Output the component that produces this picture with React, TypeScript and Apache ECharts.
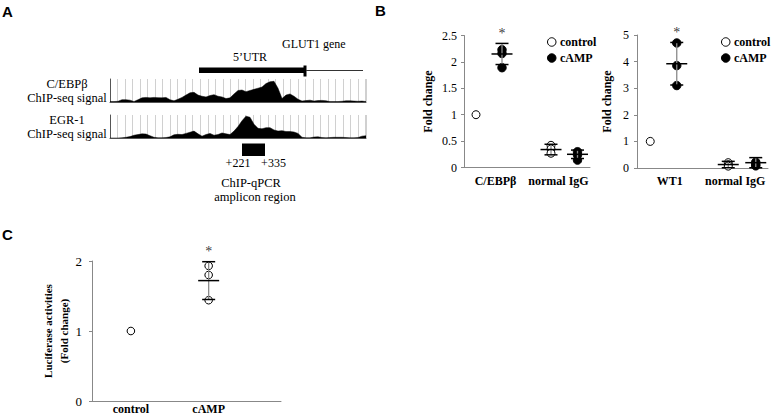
import React, { useEffect, useRef } from "react";
import * as echarts from "echarts";

// ---------- Panel A: ChIP-seq signal tracks (relative height of the track) ----------
const cebpbSignal = [
  0.02, 0.02, 0.03, 0.1, 0.1, 0.08, 0.02, 0.1, 0.18, 0.2,
  0.18, 0.2, 0.19, 0.18, 0.2, 0.1, 0.05, 0.12, 0.2, 0.3,
  0.4, 0.42, 0.3, 0.25, 0.22, 0.28, 0.32, 0.25, 0.22, 0.15,
  0.18, 0.35, 0.5, 0.52, 0.45, 0.5, 0.55, 0.6, 0.65, 0.8,
  0.88, 0.9, 0.6, 0.15, 0.3, 0.35, 0.25, 0.12, 0.04, 0.06,
  0.08, 0.04, 0.06, 0.07, 0.05, 0.02, 0.02, 0.02, 0.03, 0.05,
  0.05, 0.04, 0.03, 0.04, 0.02,
];
const egr1Signal = [
  0, 0, 0, 0.01, 0.03, 0.06, 0.12, 0.15, 0.18, 0.17,
  0.1, 0.03, 0.01, 0.01, 0.02, 0.05, 0.14, 0.16, 0.15, 0.2,
  0.25, 0.3, 0.18, 0.08, 0.15, 0.2, 0.12, 0.15, 0.22, 0.18,
  0.15, 0.3, 0.5, 0.75, 0.95, 0.9, 0.6, 0.42, 0.4, 0.45,
  0.45, 0.35, 0.3, 0.32, 0.28, 0.28, 0.26, 0.2, 0.03, 0.01,
  0.01, 0.04, 0.05, 0.02, 0.01, 0.02, 0.03, 0.03, 0.03, 0.02,
  0.01, 0.01, 0.02, 0.08, 0.1,
];

// ---------- Panel B (left): C/EBPβ ChIP-qPCR ----------
const categoriesB1 = ["C/EBPβ", "normal IgG"];
const ticksB1 = { min: 0, max: 2.5, interval: 0.5 };
const controlB1Points = [[1.0], [0.42, 0.35, 0.27]];
const controlB1Mean = [1.0, 0.34];
const controlB1Sd = [0, 0.1];
const campB1Points = [[2.23, 2.16, 1.89], [0.3, 0.24, 0.14]];
const campB1Mean = [2.15, 0.25];
const campB1Sd = [0.2, 0.08];
const campB1Sig = [true, false];

// ---------- Panel B (right): WT1 ChIP-qPCR ----------
const categoriesB2 = ["WT1", "normal IgG"];
const ticksB2 = { min: 0, max: 5, interval: 1 };
const controlB2Points = [[1.0], [0.2, 0.12, 0.07]];
const controlB2Mean = [1.0, 0.13];
const controlB2Sd = [0, 0.12];
const campB2Points = [[4.7, 3.85, 3.1], [0.22, 0.14, 0.08]];
const campB2Mean = [3.92, 0.2];
const campB2Sd = [0.8, 0.19];
const campB2Sig = [true, false];

// ---------- Panel C: luciferase ----------
const categoriesC = ["control", "cAMP"];
const ticksC = { min: 0, max: 2, interval: 1 };
const lucPoints = [[1.0], [1.93, 1.8, 1.44]];
const lucMean = [1.0, 1.72];
const lucSd = [0, 0.27];
const lucSig = [false, true];

const SERIF = "'Liberation Serif','Times New Roman',serif";
const SANS = "'Liberation Sans',Arial,sans-serif";
const AXIS_GRAY = "#888";
const CAP = 6.5;
const MEAN_HALF = 10.5;

function dotRenderer(points: number[][], sds: number[], offsets: number[], fill: string, r: number) {
  return (params: any, api: any) => {
    const i = params.dataIndex;
    const xv = api.value(0);
    const mean = api.value(1);
    const base = api.coord([xv, mean]);
    const cx = base[0] + offsets[i];
    const children: any[] = [];
    for (const v of points[i]) {
      const p = api.coord([xv, v]);
      children.push({
        type: "circle",
        shape: { cx, cy: p[1], r },
        style: { fill, stroke: "#000", lineWidth: 1 },
      });
    }
    const sd = sds[i];
    if (sd > 0) {
      const yTop = api.coord([xv, mean + sd])[1];
      const yBot = api.coord([xv, mean - sd])[1];
      children.push({
        type: "line",
        shape: { x1: cx, y1: yTop, x2: cx, y2: yBot },
        style: { stroke: "#8a8a8a", lineWidth: 1.3 },
      });
      children.push({
        type: "line",
        shape: { x1: cx - CAP, y1: yTop, x2: cx + CAP, y2: yTop },
        style: { stroke: "#000", lineWidth: 1.5 },
      });
      children.push({
        type: "line",
        shape: { x1: cx - CAP, y1: yBot, x2: cx + CAP, y2: yBot },
        style: { stroke: "#000", lineWidth: 1.5 },
      });
      children.push({
        type: "line",
        shape: { x1: cx - MEAN_HALF, y1: base[1], x2: cx + MEAN_HALF, y2: base[1] },
        style: { stroke: "#000", lineWidth: 1.5 },
      });
    }
    return { type: "group", children };
  };
}

// significance asterisks: a symbol-less scatter whose label is "*", placed at mean + sd
function starSeries(
  xAxisIndex: number,
  xs: number[],
  means: number[],
  sds: number[],
  sig: boolean[],
  offsets: number[]
) {
  const data: any[] = [];
  sig.forEach((s, i) => {
    if (s) data.push({ value: [xs[i], means[i] + sds[i]], label: { offset: [offsets[i], 0] } });
  });
  return {
    name: "significance",
    type: "scatter",
    xAxisIndex,
    yAxisIndex: xAxisIndex,
    symbolSize: 0,
    silent: true,
    data,
    label: {
      show: true,
      position: "top",
      distance: 3,
      formatter: "*",
      color: "#000",
      fontFamily: SERIF,
      fontSize: 14,
    },
  };
}

function trackAxes(gridIndex: number, label: string) {
  return {
    x: {
      gridIndex,
      type: "value",
      min: 0,
      max: 64,
      interval: 1.88,
      axisLabel: { show: false },
      axisTick: { show: false },
      axisLine: { show: true, lineStyle: { color: "#555", width: 1 } },
      splitLine: { show: true, lineStyle: { color: "#d0d0d0", width: 1 } },
    },
    y: {
      gridIndex,
      type: "value",
      min: 0,
      max: 1,
      axisLabel: { show: false },
      axisTick: { show: false },
      splitLine: { show: false },
      axisLine: { show: true, lineStyle: { color: "#555", width: 1 } },
      name: label,
      nameLocation: "middle",
      nameGap: 43,
      nameRotate: 0,
      nameTextStyle: {
        fontFamily: SERIF,
        fontSize: 12.5,
        color: "#000",
        align: "center",
        lineHeight: 14,
      },
    },
  };
}

function catXAxis(gridIndex: number, data: string[]) {
  return {
    gridIndex,
    type: "category",
    data,
    axisTick: { show: false },
    axisLine: { show: true, lineStyle: { color: AXIS_GRAY, width: 1 } },
    axisLabel: {
      interval: 0,
      hideOverlap: false,
      fontFamily: SERIF,
      fontWeight: "bold",
      fontSize: 12,
      color: "#000",
      margin: 7,
    },
    splitLine: { show: false },
  };
}

function valYAxis(
  gridIndex: number,
  ticks: { min: number; max: number; interval: number },
  name: string,
  nameGap: number,
  nameSize: number,
  labelSize: number,
  labelMargin: number
) {
  return {
    gridIndex,
    type: "value",
    ...ticks,
    axisLine: { show: true, lineStyle: { color: AXIS_GRAY, width: 1 } },
    axisTick: { show: true, length: 3, lineStyle: { color: AXIS_GRAY } },
    axisLabel: { fontFamily: SERIF, fontSize: labelSize, color: "#000", margin: labelMargin },
    splitLine: { show: false },
    name,
    nameLocation: "middle",
    nameGap,
    nameTextStyle: {
      fontFamily: SERIF,
      fontWeight: "bold",
      fontSize: nameSize,
      color: "#000",
      lineHeight: 16,
    },
  };
}

function legendAt(left: number) {
  return {
    left,
    top: 36,
    padding: 0,
    orient: "vertical",
    icon: "circle",
    itemWidth: 8.5,
    itemHeight: 8.5,
    itemGap: 4,
    selectedMode: false,
    data: [
      { name: "control", itemStyle: { color: "#fff", borderColor: "#000", borderWidth: 1 } },
      { name: "cAMP", itemStyle: { color: "#000", borderColor: "#000", borderWidth: 1 } },
    ],
    textStyle: { fontFamily: SERIF, fontWeight: "bold", fontSize: 12, color: "#000", padding: [0, 0, 0, -1] },
  };
}

const textEl = (
  x: number,
  y: number,
  text: string,
  align: string,
  font: string,
  size: number,
  weight = "normal"
) => ({
  type: "text",
  x,
  y,
  style: {
    text,
    fontFamily: font,
    fontSize: size,
    fontWeight: weight,
    fill: "#000",
    align,
    verticalAlign: "middle",
  },
});

export default function App() {
  const ref = useRef<HTMLDivElement>(null);

  useEffect(() => {
    if (!ref.current) return;
    const chart = echarts.init(ref.current, undefined, { renderer: "svg" });

    const t0 = trackAxes(0, "C/EBPβ\nChIP-seq signal");
    const t1 = trackAxes(1, "EGR-1\nChIP-seq signal");

    const xB = [0, 1];
    const xC = categoriesC.map((_, i) => 2 * i + 1);
    const ctlOff = [-19.5, -7.5];
    const campOff = [6.5, 19];

    const option: any = {
      animation: false,
      backgroundColor: "#fff",
      grid: [
        { left: 110, top: 79, width: 256, height: 23 },
        { left: 110, top: 115, width: 256, height: 23 },
        { left: 464, top: 35.5, width: 126, height: 132 },
        { left: 637, top: 35, width: 131, height: 133 },
        { left: 92, top: 261, width: 189, height: 140 },
      ],
      xAxis: [
        t0.x,
        t1.x,
        catXAxis(2, categoriesB1),
        catXAxis(3, categoriesB2),
        {
          gridIndex: 4,
          type: "value",
          min: 0,
          max: 4.86,
          interval: 1,
          axisTick: { show: false },
          splitLine: { show: false },
          axisLine: { show: true, lineStyle: { color: AXIS_GRAY, width: 1 } },
          axisLabel: {
            fontFamily: SERIF,
            fontWeight: "bold",
            fontSize: 12,
            color: "#000",
            margin: 2,
            showMaxLabel: false,
            formatter: (v: number) => {
              const idx = xC.indexOf(v);
              return idx >= 0 ? categoriesC[idx] : "";
            },
          },
        },
      ],
      yAxis: [
        t0.y,
        t1.y,
        valYAxis(2, ticksB1, "Fold change", 28, 12, 12, 7),
        valYAxis(3, ticksB2, "Fold change", 22, 12, 12, 8),
        valYAxis(4, ticksC, "Luciferase activities\n(Fold change)", 16, 11, 13, 10),
      ],
      legend: [legendAt(547), legendAt(721)],
      series: [
        {
          name: "C/EBPβ ChIP-seq",
          type: "line",
          xAxisIndex: 0,
          yAxisIndex: 0,
          data: cebpbSignal.map((v, i) => [i, v]),
          symbol: "none",
          silent: true,
          lineStyle: { color: "#000", width: 0.5 },
          areaStyle: { color: "#000", opacity: 1 },
        },
        {
          name: "EGR-1 ChIP-seq",
          type: "line",
          xAxisIndex: 1,
          yAxisIndex: 1,
          data: egr1Signal.map((v, i) => [i, v]),
          symbol: "none",
          silent: true,
          lineStyle: { color: "#000", width: 0.5 },
          areaStyle: { color: "#000", opacity: 1 },
        },
        {
          name: "control",
          type: "custom",
          xAxisIndex: 2,
          yAxisIndex: 2,
          itemStyle: { color: "#fff", borderColor: "#000" },
          data: controlB1Mean.map((m, i) => [xB[i], m, controlB1Sd[i]]),
          encode: { x: 0, y: 1 },
          renderItem: dotRenderer(controlB1Points, controlB1Sd, ctlOff, "#fff", 4),
        },
        {
          name: "cAMP",
          type: "custom",
          xAxisIndex: 2,
          yAxisIndex: 2,
          itemStyle: { color: "#000" },
          data: campB1Mean.map((m, i) => [xB[i], m, campB1Sd[i]]),
          encode: { x: 0, y: 1 },
          renderItem: dotRenderer(campB1Points, campB1Sd, campOff, "#000", 4.2),
        },
        starSeries(2, xB, campB1Mean, campB1Sd, campB1Sig, campOff),
        {
          name: "control",
          type: "custom",
          xAxisIndex: 3,
          yAxisIndex: 3,
          itemStyle: { color: "#fff", borderColor: "#000" },
          data: controlB2Mean.map((m, i) => [xB[i], m, controlB2Sd[i]]),
          encode: { x: 0, y: 1 },
          renderItem: dotRenderer(controlB2Points, controlB2Sd, [-19.5, -7], "#fff", 4),
        },
        {
          name: "cAMP",
          type: "custom",
          xAxisIndex: 3,
          yAxisIndex: 3,
          itemStyle: { color: "#000" },
          data: campB2Mean.map((m, i) => [xB[i], m, campB2Sd[i]]),
          encode: { x: 0, y: 1 },
          renderItem: dotRenderer(campB2Points, campB2Sd, [7, 20.5], "#000", 4.2),
        },
        starSeries(3, xB, campB2Mean, campB2Sd, campB2Sig, [7, 20.5]),
        {
          name: "Luciferase",
          type: "custom",
          xAxisIndex: 4,
          yAxisIndex: 4,
          itemStyle: { color: "#fff", borderColor: "#000" },
          data: lucMean.map((m, i) => [xC[i], m, lucSd[i]]),
          encode: { x: 0, y: 1 },
          renderItem: dotRenderer(lucPoints, lucSd, [0, 0], "#fff", 3.8),
        },
        starSeries(4, xC, lucMean, lucSd, lucSig, [0, 0]),
      ],
      graphic: [
        textEl(2, 11, "A", "left", SANS, 15, "bold"),
        textEl(375, 10, "B", "left", SANS, 15, "bold"),
        textEl(2, 234, "C", "left", SANS, 15, "bold"),
        textEl(282, 44, "GLUT1 gene", "left", SERIF, 12),
        textEl(250, 57, "5’UTR", "center", SERIF, 12),
        { type: "rect", shape: { x: 199, y: 67.5, width: 106, height: 5.5 }, style: { fill: "#000" } },
        { type: "rect", shape: { x: 303.5, y: 65.5, width: 3, height: 11 }, style: { fill: "#000" } },
        { type: "line", shape: { x1: 306, y1: 70.5, x2: 363, y2: 70.5 }, style: { stroke: "#333", lineWidth: 1 } },
        { type: "rect", shape: { x: 242, y: 143.5, width: 23, height: 12.5 }, style: { fill: "#000" } },
        textEl(238, 163, "+221", "center", SERIF, 12),
        textEl(273.5, 163, "+335", "center", SERIF, 12),
        textEl(251, 183, "ChIP-qPCR", "center", SERIF, 12.5),
        textEl(255, 197, "amplicon region", "center", SERIF, 12.5),
      ],
    };

    chart.setOption(option);
    return () => chart.dispose();
  }, []);

  return (
    <div
      ref={ref}
      style={{ position: "fixed", left: 0, top: 0, width: 774, height: 415, background: "#fff" }}
    />
  );
}
